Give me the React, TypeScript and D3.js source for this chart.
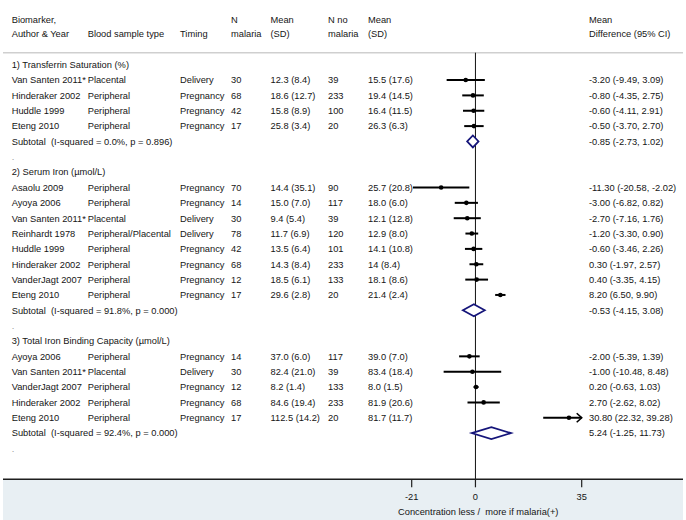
import React from "react";
import * as d3 from "d3";

// ---------- data ----------
const sectionTitles = [
  "1) Transferrin Saturation (%)",
  "2) Serum Iron (µmol/L)",
  "3) Total Iron Binding Capacity (µmol/L)",
];
const subtotalLabels = [
  "Subtotal  (I-squared = 0.0%, p = 0.896)",
  "Subtotal  (I-squared = 91.8%, p = 0.000)",
  "Subtotal  (I-squared = 92.4%, p = 0.000)",
];
const subtotalMD = [-0.85, -0.53, 5.24];
const subtotalLo = [-2.73, -4.15, -1.25];
const subtotalHi = [1.02, 3.08, 11.73];

const studySection = [0, 0, 0, 0, 1, 1, 1, 1, 1, 1, 1, 1, 2, 2, 2, 2, 2];
const authors = [
  "Van Santen 2011*", "Hinderaker 2002", "Huddle 1999", "Eteng 2010",
  "Asaolu 2009", "Ayoya 2006", "Van Santen 2011*", "Reinhardt 1978", "Huddle 1999", "Hinderaker 2002", "VanderJagt 2007", "Eteng 2010",
  "Ayoya 2006", "Van Santen 2011*", "VanderJagt 2007", "Hinderaker 2002", "Eteng 2010",
];
const sampleTypes = [
  "Placental", "Peripheral", "Peripheral", "Peripheral",
  "Peripheral", "Peripheral", "Placental", "Peripheral/Placental", "Peripheral", "Peripheral", "Peripheral", "Peripheral",
  "Peripheral", "Placental", "Peripheral", "Peripheral", "Peripheral",
];
const timings = [
  "Delivery", "Pregnancy", "Pregnancy", "Pregnancy",
  "Pregnancy", "Pregnancy", "Delivery", "Delivery", "Pregnancy", "Pregnancy", "Pregnancy", "Pregnancy",
  "Pregnancy", "Delivery", "Pregnancy", "Pregnancy", "Pregnancy",
];
const nMalaria = [30, 68, 42, 17, 70, 14, 30, 78, 42, 68, 12, 17, 14, 30, 12, 68, 17];
const meanSdMalaria = [
  "12.3 (8.4)", "18.6 (12.7)", "15.8 (8.9)", "25.8 (3.4)",
  "14.4 (35.1)", "15.0 (7.0)", "9.4 (5.4)", "11.7 (6.9)", "13.5 (6.4)", "14.3 (8.4)", "18.5 (6.1)", "29.6 (2.8)",
  "37.0 (6.0)", "82.4 (21.0)", "8.2 (1.4)", "84.6 (19.4)", "112.5 (14.2)",
];
const nNoMalaria = [39, 233, 100, 20, 90, 117, 39, 120, 101, 233, 133, 20, 117, 39, 133, 233, 20];
const meanSdNoMalaria = [
  "15.5 (17.6)", "19.4 (14.5)", "16.4 (11.5)", "26.3 (6.3)",
  "25.7 (20.8)", "18.0 (6.0)", "12.1 (12.8)", "12.9 (8.0)", "14.1 (10.8)", "14 (8.4)", "18.1 (8.6)", "21.4 (2.4)",
  "39.0 (7.0)", "83.4 (18.4)", "8.0 (1.5)", "81.9 (20.6)", "81.7 (11.7)",
];
const meanDiff = [-3.2, -0.8, -0.6, -0.5, -11.3, -3.0, -2.7, -1.2, -0.6, 0.3, 0.4, 8.2, -2.0, -1.0, 0.2, 2.7, 30.8];
const ciLow = [-9.49, -4.35, -4.11, -3.7, -20.58, -6.82, -7.16, -3.3, -3.46, -1.97, -3.35, 6.5, -5.39, -10.48, -0.63, -2.62, 22.32];
const ciHigh = [3.09, 2.75, 2.91, 2.7, -2.02, 0.82, 1.76, 0.9, 2.26, 2.57, 4.15, 9.9, 1.39, 8.48, 1.03, 8.02, 39.28];

const tickValues = [-21, 0, 35];
const axisTitle = "Concentration less /  more if malaria(+)";

const headerRow1 = ["Biomarker,", "", "", "N", "Mean", "N no", "Mean", "Mean"];
const headerRow2 = ["Author & Year", "Blood sample type", "Timing", "malaria", "(SD)", "malaria", "(SD)", "Difference (95% CI)"];

// ---------- layout ----------
const W = 686;
const H = 520;
const colX = [11.7, 87.7, 180, 231, 270.5, 328, 368, 589];
const FONT = "'Liberation Sans', Arial, sans-serif";
const FS = 9.3;
const TEXT = "#151515";
const NAVY = "#15157a";

const fmt = (v: number) => v.toFixed(2);
const mdText = (m: number, l: number, h: number) => `${fmt(m)} (${fmt(l)}, ${fmt(h)})`;

type Row =
  | { kind: "title"; text: string }
  | { kind: "study"; i: number }
  | { kind: "subtotal"; s: number }
  | { kind: "dot" };

export default function App() {
  const rows: Row[] = [];
  sectionTitles.forEach((t, s) => {
    rows.push({ kind: "title", text: t });
    studySection.forEach((sec, i) => {
      if (sec === s) rows.push({ kind: "study", i });
    });
    rows.push({ kind: "subtotal", s });
    rows.push({ kind: "dot" });
  });

  const x = d3.scaleLinear().domain([-21, 35]).range([411.7, 581.7]);
  const y = d3.scaleLinear().domain([0, 1]).range([64.7, 80.05]);
  const axisY = 479.3;
  const headerLineY = 52.7;
  const [xmin, xmax] = x.domain();

  const txt = (tx: number, ty: number, s: string, anchor: string = "start", key?: any, fill = TEXT) => (
    <text key={key} x={tx} y={ty + 3.3} fontSize={FS} fill={fill} textAnchor={anchor as any} style={{ whiteSpace: "pre" }}>
      {s}
    </text>
  );

  return (
    <div style={{ position: "absolute", left: 0, top: 0 }}>
      <svg width={W} height={H} fontFamily={FONT} style={{ display: "block", background: "#fff" }}>
        {/* header */}
        {headerRow1.map((h, j) => (h ? txt(colX[j], 19.3, h, "start", "h1" + j) : null))}
        {headerRow2.map((h, j) => txt(colX[j], 33.3, h, "start", "h2" + j))}
        <line x1={3} x2={683} y1={headerLineY} y2={headerLineY} stroke="#cfcfcf" strokeWidth={1.5} />

        {/* bottom band & axis */}
        <rect x={3} y={axisY} width={680} height={H - axisY} fill="#e8eff3" />
        <line x1={x(0)} x2={x(0)} y1={headerLineY} y2={axisY} stroke="#111" strokeWidth={1} />
        <line x1={3} x2={683} y1={axisY} y2={axisY} stroke="#1e1e1e" strokeWidth={1.6} />
        {tickValues.map((t) => (
          <g key={"t" + t}>
            <line x1={x(t)} x2={x(t)} y1={axisY} y2={axisY + 8} stroke="#1e1e1e" strokeWidth={1.2} />
            {txt(x(t), 496.5, String(t), "middle")}
          </g>
        ))}
        {txt(398, 512, axisTitle, "start", "axt")}

        {/* rows */}
        {rows.map((r, k) => {
          const yy = y(k);
          if (r.kind === "title") return <g key={k}>{txt(colX[0], yy, r.text)}</g>;
          if (r.kind === "dot") return <g key={k}>{txt(colX[0], yy, ".", "start", undefined, "#999")}</g>;
          if (r.kind === "subtotal") {
            const s = r.s;
            const d = `M${x(subtotalLo[s])},${yy} L${x(subtotalMD[s])},${yy - 6} L${x(subtotalHi[s])},${yy} L${x(subtotalMD[s])},${yy + 6} Z`;
            return (
              <g key={k}>
                {txt(colX[0], yy, subtotalLabels[s])}
                <path d={d} fill="#fff" stroke={NAVY} strokeWidth={1.7} />
                {txt(colX[7], yy, mdText(subtotalMD[s], subtotalLo[s], subtotalHi[s]))}
              </g>
            );
          }
          const i = r.i;
          const lo = Math.max(ciLow[i], xmin);
          const hi = Math.min(ciHigh[i], xmax);
          const clippedRight = ciHigh[i] > xmax;
          return (
            <g key={k}>
              {txt(colX[0], yy, authors[i])}
              {txt(colX[1], yy, sampleTypes[i])}
              {txt(colX[2], yy, timings[i])}
              {txt(colX[3], yy, String(nMalaria[i]))}
              {txt(colX[4], yy, meanSdMalaria[i])}
              {txt(colX[5], yy, String(nNoMalaria[i]))}
              {txt(colX[6], yy, meanSdNoMalaria[i])}
              <line x1={x(lo)} x2={x(hi)} y1={yy} y2={yy} stroke="#000" strokeWidth={2} />
              {clippedRight && (
                <path d={`M${x(hi) - 5},${yy - 4.5} L${x(hi)},${yy} L${x(hi) - 5},${yy + 4.5}`} fill="none" stroke="#000" strokeWidth={1.6} />
              )}
              <circle cx={x(meanDiff[i])} cy={yy} r={2.3} fill="#000" />
              {txt(colX[7], yy, mdText(meanDiff[i], ciLow[i], ciHigh[i]))}
            </g>
          );
        })}
      </svg>
    </div>
  );
}
